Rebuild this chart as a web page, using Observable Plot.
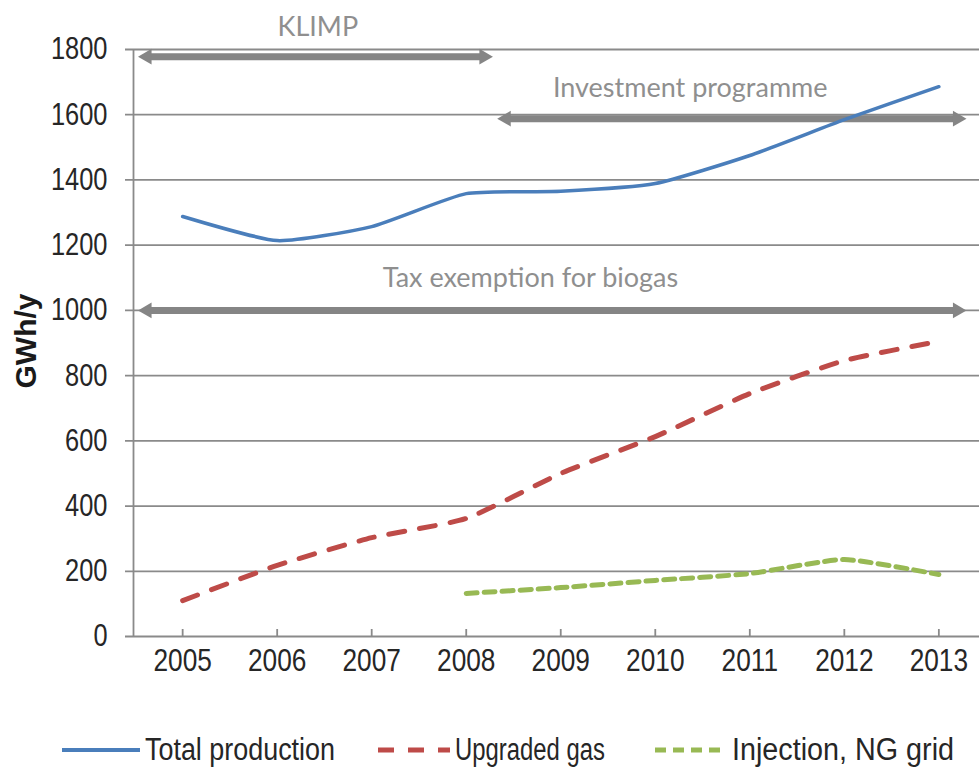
<!DOCTYPE html>
<html>
<head>
<meta charset="utf-8">
<script src="https://cdn.jsdelivr.net/npm/d3@7"></script>
<script src="https://cdn.jsdelivr.net/npm/@observablehq/plot@0.6"></script>
<style>
  body { margin: 0; background: #fff; }
  #chart { position: relative; width: 979px; height: 768px; overflow: hidden; font-family: "Liberation Sans", Arial, sans-serif; }
  #chart svg { display: block; }
  .item { position: absolute; top: 732px; height: 36px; display: flex; align-items: center; font-size: 31px; color: #262626; white-space: nowrap; }
  .item svg { margin-right: 5px; flex: none; }
  .item span { display: inline-block; transform-origin: left center; }
</style>
</head>
<body>
<div id="chart"></div>
<script>
// ---- data ----
const years = [2005, 2006, 2007, 2008, 2009, 2010, 2011, 2012, 2013];
const totalProduction = [1288, 1214, 1257, 1358, 1365, 1389, 1475, 1585, 1686];
const upgradedGas = [110, 218, 303, 362, 500, 613, 745, 846, 905];
const injectionYears = [2008, 2009, 2010, 2011, 2012, 2013];
const injectionNG = [132, 150, 172, 193, 236, 190];
const yTicks = [0, 200, 400, 600, 800, 1000, 1200, 1400, 1600, 1800];
const seriesNames = ["Total production", "Upgraded gas", "Injection, NG grid"];
const seriesColors = ["#4A7EBB", "#BE4B48", "#98B954"];

// policy periods (annotation arrows)
const policyNames = ["KLIMP", "Investment programme", "Tax exemption for biogas"];
const policyStart = [2004.53, 2008.33, 2004.53];
const policyEnd = [2008.28, 2013.29, 2013.29];
const policyLevel = [1778, 1588, 1000];
const policyLabelYear = [2006.43, 2010.37, 2008.68];
const policyLabelLevel = [1867, 1680, 1098];

// ---- tables ----
const total = years.map((y, i) => ({year: y, value: totalProduction[i]}));
const upgraded = years.map((y, i) => ({year: y, value: upgradedGas[i]}));
const injection = injectionYears.map((y, i) => ({year: y, value: injectionNG[i]}));
const policies = policyNames.map((n, i) => ({
  name: n, start: policyStart[i], end: policyEnd[i], level: policyLevel[i],
  lx: policyLabelYear[i], ly: policyLabelLevel[i]
}));

const grid = "#8a8a8a";
const arrowGray = "#858585";
const xMin = 2004.48, xMax = 2013.43;
const smooth = {curve: "cardinal", tension: 0.45};

const plot = Plot.plot({
  width: 979,
  height: 700,
  marginLeft: 133,
  marginRight: 0,
  marginTop: 49,
  marginBottom: 64,
  x: {domain: [xMin, xMax]},
  y: {domain: [0, 1800]},
  style: {
    fontFamily: '"Liberation Sans", Arial, sans-serif',
    fontSize: "31px",
    color: "#262626",
    background: "#fff",
    overflow: "visible"
  },
  marks: [
    Plot.ruleY(yTicks, {stroke: grid, strokeWidth: 1.8, insetLeft: -8}),
    Plot.ruleX([xMin], {stroke: grid, strokeWidth: 1.8}),
    Plot.ruleX(years, {y1: 0, y2: 0, insetTop: -7, stroke: grid, strokeWidth: 1.8}),
    Plot.axisY({ticks: yTicks, tickSize: 0, tickPadding: 26, tickFormat: d => String(d), label: null, fontSize: 31}),
    Plot.axisX({ticks: years, tickSize: 0, tickPadding: 12, tickFormat: d => String(d), label: null, fontSize: 32}),
    Plot.text(["GWh/y"], {frameAnchor: "left", dx: -107, dy: -2, rotate: -90, textAnchor: "middle",
      fontWeight: "bold", fontSize: 30, fill: "#1a1a1a", fontFamily: '"Liberation Sans", Arial, sans-serif'}),

    // policy arrows
    Plot.ruleY(policies, {y: "level", x1: "start", x2: "end", stroke: arrowGray, strokeWidth: 7, insetLeft: 8, insetRight: 8}),
    Plot.dot(policies, {x: "start", y: "level", symbol: "triangle", r: 5.8, rotate: -90, dx: 8.8, fill: arrowGray, stroke: "none"}),
    Plot.dot(policies, {x: "end", y: "level", symbol: "triangle", r: 5.8, rotate: 90, dx: -8.8, fill: arrowGray, stroke: "none"}),
    Plot.text(policies, {x: "lx", y: "ly", text: "name", fill: "#8f8f8f", fontSize: 27,
      fontFamily: 'Lato, "Liberation Sans", sans-serif'}),

    // series
    Plot.line(total, {x: "year", y: "value", stroke: seriesColors[0], strokeWidth: 3.5, ...smooth}),
    Plot.line(upgraded, {x: "year", y: "value", stroke: seriesColors[1], strokeWidth: 5, strokeDasharray: "16,15", ...smooth}),
    Plot.line(injection, {x: "year", y: "value", stroke: seriesColors[2], strokeWidth: 5, strokeDasharray: "11,7", ...smooth})
  ]
});

const chart = document.getElementById("chart");
chart.appendChild(plot);

// condense axis tick labels (the original uses a narrow face)
d3.select(plot).selectAll('g[aria-label$="tick label"] text').each(function() {
  const len = this.getComputedTextLength();
  this.setAttribute("textLength", (len * 0.82).toFixed(1));
  this.setAttribute("lengthAdjust", "spacingAndGlyphs");
});

// legend
const legendLeft = [62, 378, 655];
const legendTextWidth = [190, 150, 222];
const legendDash = [null, "16,14", "11,7"];
seriesNames.forEach((name, i) => {
  const item = document.createElement("div");
  item.className = "item";
  item.style.left = legendLeft[i] + "px";
  const w = i === 0 ? 78 : 72;
  const svg = d3.create("svg").attr("width", w).attr("height", 20);
  svg.append("line").attr("x1", 0).attr("x2", w).attr("y1", 10).attr("y2", 10)
    .attr("stroke", seriesColors[i]).attr("stroke-width", i === 0 ? 4 : 5)
    .attr("stroke-dasharray", legendDash[i]);
  item.appendChild(svg.node());
  const span = document.createElement("span");
  span.textContent = name;
  item.appendChild(span);
  chart.appendChild(item);
  const natural = span.getBoundingClientRect().width;
  span.style.transform = `scaleX(${(legendTextWidth[i] / natural).toFixed(3)})`;
});
</script>
</body>
</html>
